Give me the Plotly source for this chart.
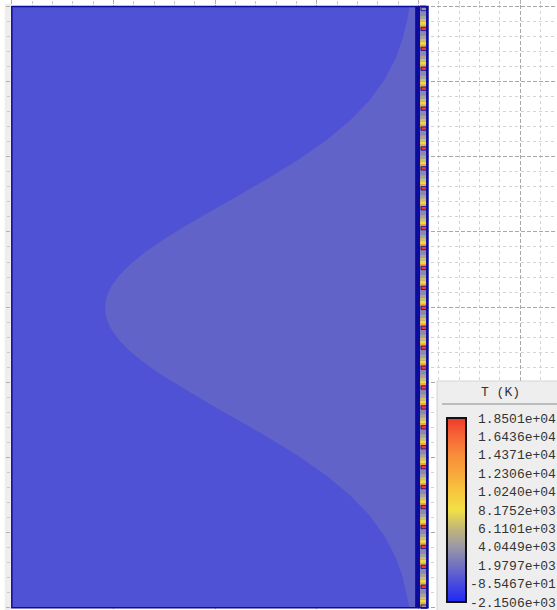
import plotly.graph_objects as go
from plotly.colors import sample_colorscale

# ---- model geometry (model units) ----
bulk_x = [-4.0, -0.035]          # solid block
domain_y = [0.0, 8.0]
band_x = [-0.035, 0.014]         # boundary band next to the channel
channel_x = [0.014, 0.073]       # heated channel
rim_x = [0.073, 0.092]           # outer rim of the channel
source_x = [0.024, 0.085]        # heat source pads

# ---- warm zone boundary in the block (top to bottom) ----
warm_x = [-0.089, -0.112, -0.160, -0.233, -0.338, -0.481, -0.669, -0.905,
          -1.187, -1.507, -1.763, -2.025, -2.279, -2.517, -2.700, -2.843,
          -2.948, -3.013, -3.053, -3.075, -3.084,
          -3.075, -3.053, -3.013, -2.948, -2.843, -2.700, -2.517, -2.279,
          -2.025, -1.763, -1.507, -1.187, -0.905, -0.669, -0.481, -0.338,
          -0.233, -0.160, -0.112, -0.089]
warm_y = [8.000, 7.820, 7.554, 7.288, 7.022, 6.756, 6.490, 6.224,
          5.957, 5.692, 5.492, 5.293, 5.092, 4.894, 4.720, 4.561,
          4.414, 4.295, 4.188, 4.096, 3.990,
          3.884, 3.792, 3.685, 3.566, 3.419, 3.260, 3.086, 2.888,
          2.687, 2.488, 2.288, 2.023, 1.756, 1.490, 1.224, 0.958,
          0.692, 0.426, 0.160, 0.000]

# ---- heat sources along the channel ----
source_y = [0.014, 0.279, 0.544, 0.809, 1.074, 1.339, 1.605, 1.870, 2.135,
            2.400, 2.665, 2.930, 3.195, 3.460, 3.725, 3.990, 4.256, 4.521,
            4.786, 5.051, 5.316, 5.581, 5.846, 6.111, 6.376, 6.641, 6.907,
            7.172, 7.437, 7.702, 7.967]
source_T = [4000, 18501, 18501, 18501, 18501, 18501, 18501, 18501, 18501,
            18501, 18501, 18501, 18501, 18501, 18501, 18501, 18501, 18501,
            18501, 18501, 18501, 18501, 18501, 18501, 18501, 18501, 18501,
            18501, 18501, 18501, 4000]
source_half = 0.0226

# warm layers stacked above each source (offset from source centre)
glow_lo = [0.0226, 0.053, 0.093, 0.133]
glow_hi = [0.053, 0.093, 0.133, 0.173]
glow_T = [12500, 9000, 6500, 4800]
channel_T = 3300

# ---- colour legend ----
T_min, T_max = -2150.6, 18501.0
tick_T = [-2150.6, -85.467, 1979.7, 4044.9, 6110.1, 8175.2,
          10240, 12306, 14371, 16436, 18501]
tick_text = ["-2.1506e+03", "-8.5467e+01", "\u00a01.9797e+03", "\u00a04.0449e+03",
             "\u00a06.1101e+03", "\u00a08.1752e+03", "\u00a01.0240e+04", "\u00a01.2306e+04",
             "\u00a01.4371e+04", "\u00a01.6436e+04", "\u00a01.8501e+04"]
thermal = [[0.0, "#1E2AF6"], [0.1, "#4A4ADF"], [0.2, "#7272C2"],
           [0.3, "#9A98A6"], [0.4, "#C2B678"], [0.5, "#F2E046"],
           [0.6, "#F8C63E"], [0.7, "#F7A83C"], [0.8, "#F88C3A"],
           [0.9, "#F76636"], [1.0, "#EE3A2C"]]
# small margin so the end ticks stay inside the bar range
c_lo, c_hi = T_min - 0.5, T_max + 0.5

bulk_color = "#4F52D4"
warm_color = "#6163C9"
edge_color = "#0B0B9C"


def t_color(T):
    return sample_colorscale(thermal, [(T - c_lo) / (c_hi - c_lo)])[0]


fig = go.Figure()

# block
fig.add_trace(go.Scatter(
    x=[bulk_x[0], bulk_x[1], bulk_x[1], bulk_x[0]],
    y=[domain_y[0], domain_y[0], domain_y[1], domain_y[1]],
    fill="toself", fillcolor=bulk_color, mode="lines", line=dict(width=0),
    hoverinfo="skip", showlegend=False))

# warm zone
fig.add_trace(go.Scatter(
    x=warm_x + [bulk_x[1], bulk_x[1]],
    y=warm_y + [domain_y[0], domain_y[1]],
    fill="toself", fillcolor=warm_color, mode="lines", line=dict(width=0),
    hoverinfo="skip", showlegend=False))

# carrier trace for the colour legend
fig.add_trace(go.Scatter(
    x=[None], y=[None], mode="markers", hoverinfo="skip", showlegend=False,
    marker=dict(color=[T_min], colorscale=thermal, cmin=c_lo, cmax=c_hi,
                showscale=True,
                colorbar=dict(
                    thickness=19, thicknessmode="pixels",
                    len=184, lenmode="pixels",
                    x=(447 - 11) / 546, xanchor="left",
                    y=(610 - 418) / 605, yanchor="top",
                    xpad=0, ypad=0,
                    outlinewidth=2, outlinecolor="#111111",
                    tickvals=tick_T, ticktext=tick_text, ticks="",
                    ticklabeloverflow="allow",
                    tickfont=dict(family="Liberation Mono", size=13, color="#333333"),
                    bgcolor="rgba(0,0,0,0)", borderwidth=0))))

shapes = []
# channel structure
shapes.append(dict(type="rect", xref="x", yref="y", x0=channel_x[0], x1=channel_x[1],
                   y0=domain_y[0], y1=domain_y[1], fillcolor=t_color(channel_T),
                   line=dict(width=0), layer="above"))
for ys in source_y:
    for lo, hi, Tg in zip(glow_lo, glow_hi, glow_T):
        shapes.append(dict(type="rect", xref="x", yref="y",
                           x0=channel_x[0], x1=channel_x[1],
                           y0=ys + lo, y1=ys + hi, fillcolor=t_color(Tg),
                           line=dict(width=0), layer="above"))
for ys, Ts in zip(source_y, source_T):
    shapes.append(dict(type="rect", xref="x", yref="y",
                       x0=source_x[0], x1=source_x[1],
                       y0=ys - source_half, y1=ys + source_half,
                       fillcolor=t_color(Ts), line=dict(color=edge_color, width=0.8),
                       layer="above"))
shapes.append(dict(type="rect", xref="x", yref="y", x0=band_x[0], x1=band_x[1],
                   y0=domain_y[0], y1=domain_y[1], fillcolor=edge_color,
                   line=dict(width=0), layer="above"))
shapes.append(dict(type="rect", xref="x", yref="y", x0=rim_x[0], x1=rim_x[1],
                   y0=domain_y[0], y1=domain_y[1], fillcolor=edge_color,
                   line=dict(width=0), layer="above"))
# block outline
shapes.append(dict(type="rect", xref="x", yref="y", x0=bulk_x[0], x1=rim_x[1],
                   y0=domain_y[0], y1=domain_y[1], fillcolor="rgba(0,0,0,0)",
                   line=dict(color=edge_color, width=1.5), layer="above"))

# left ruler strip
shapes.append(dict(type="rect", xref="paper", yref="paper",
                   x0=(4.7 - 11) / 546, x1=0, y0=0, y1=1.002,
                   fillcolor="#EEEEEE", line=dict(width=0), layer="below"))
# legend panel
shapes.append(dict(type="rect", xref="paper", yref="paper",
                   x0=(437 - 11) / 546, x1=1.01, y0=-0.01, y1=(610 - 381) / 605,
                   fillcolor="#EEEEEE", line=dict(color="#D4D4D4", width=1),
                   layer="above"))
shapes.append(dict(type="line", xref="paper", yref="paper",
                   x0=(442 - 11) / 546, x1=1.0, y0=(610 - 404) / 605, y1=(610 - 404) / 605,
                   line=dict(color="#8A8A8A", width=1), layer="above"))

fig.update_layout(
    width=557, height=610,
    margin=dict(l=11, r=0, t=5, b=0),
    paper_bgcolor="white", plot_bgcolor="white",
    shapes=shapes,
    annotations=[dict(text="T (K)", xref="paper", yref="paper",
                      x=(500 - 11) / 546, y=(610 - 393) / 605,
                      showarrow=False, xanchor="center", yanchor="middle",
                      font=dict(family="Liberation Mono", size=13, color="#333333"))],
    xaxis=dict(range=[-4.008, 1.3607], side="top", dtick=1, tick0=0,
               showgrid=True, gridcolor="#A8A8A8", griddash="4px,2px", gridwidth=1,
               ticks="outside", ticklen=4, tickcolor="#B0B0B0",
               showticklabels=False, zeroline=False, showline=False, fixedrange=True,
               minor=dict(dtick=0.2, showgrid=True, gridcolor="#D4D4D4",
                          griddash="3px,3px", ticks="outside", ticklen=3,
                          tickcolor="#C8C8C8")),
    yaxis=dict(range=[-0.0306, 8.02], dtick=1, tick0=0,
               showgrid=True, gridcolor="#A8A8A8", griddash="4px,2px", gridwidth=1,
               ticks="outside", ticklen=4, tickcolor="#B0B0B0",
               showticklabels=False, zeroline=False, showline=False, fixedrange=True,
               minor=dict(dtick=0.2, showgrid=True, gridcolor="#D4D4D4",
                          griddash="3px,3px", ticks="outside", ticklen=3,
                          tickcolor="#C8C8C8")),
)

fig.write_html("out.html")
